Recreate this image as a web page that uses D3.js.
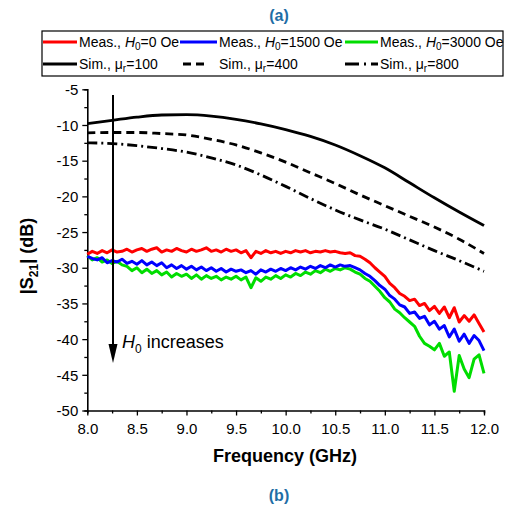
<!DOCTYPE html>
<html>
<head>
<meta charset="utf-8">
<script src="https://cdn.jsdelivr.net/npm/d3@7"></script>
<style>
  body { margin: 0; background: #fff; }
  text { font-family: "Liberation Sans", Arial, sans-serif; }
</style>
</head>
<body>
<div id="container"></div>
<script>
// measured data, 8.00 .. 12.00 GHz
const freq = [8.00,8.05,8.10,8.15,8.20,8.25,8.30,8.35,8.40,8.45,8.50,8.55,8.60,8.65,8.70,8.75,8.80,8.85,8.90,8.95,
  9.00,9.05,9.10,9.15,9.20,9.25,9.30,9.35,9.40,9.45,9.50,9.55,9.60,9.65,9.70,9.75,9.80,9.85,9.90,9.95,
  10.00,10.05,10.10,10.15,10.20,10.25,10.30,10.35,10.40,10.45,10.50,10.55,10.60,10.65,10.70,10.75,10.80,10.85,10.90,10.95,
  11.00,11.05,11.10,11.15,11.20,11.25,11.30,11.35,11.40,11.45,11.50,11.55,11.60,11.65,11.70,11.75,11.80,11.85,11.90,11.95,12.00];
const meas0 = [-28.1,-27.7,-28.0,-27.6,-27.9,-27.5,-27.8,-27.7,-27.4,-27.8,-27.5,-27.3,-27.7,-27.4,-27.2,-27.8,-27.5,-27.7,-27.3,-27.6,
  -27.8,-27.4,-27.7,-27.5,-27.2,-27.7,-27.5,-27.8,-27.4,-27.7,-27.5,-27.9,-27.6,-28.6,-27.7,-28.0,-27.6,-27.9,-27.7,-28.0,
  -27.7,-27.9,-27.6,-27.8,-27.6,-27.9,-27.7,-27.8,-27.6,-27.8,-27.7,-27.9,-28.0,-27.9,-28.3,-28.4,-28.8,-29.3,-30.0,-30.6,
  -31.2,-32.2,-32.8,-33.6,-34.0,-34.6,-34.4,-35.3,-35.0,-36.0,-35.4,-36.4,-35.5,-37.0,-35.6,-37.6,-36.7,-37.5,-36.6,-37.8,-39.0];
const meas1500 = [-28.4,-28.7,-28.9,-28.6,-29.3,-29.0,-29.2,-28.8,-29.4,-29.1,-29.5,-29.0,-29.6,-29.2,-29.7,-29.3,-30.0,-29.6,-30.1,-29.7,
  -30.2,-29.8,-30.3,-29.9,-30.4,-30.0,-30.5,-30.1,-30.6,-30.2,-30.5,-30.3,-30.7,-30.4,-30.9,-30.3,-30.6,-30.2,-30.5,-30.1,
  -30.4,-30.0,-30.3,-29.9,-30.2,-29.8,-30.1,-29.7,-30.0,-29.6,-29.9,-29.6,-29.8,-29.7,-30.0,-30.3,-30.8,-31.2,-31.8,-32.5,
  -33.0,-33.9,-34.4,-35.2,-35.5,-36.4,-36.2,-37.1,-36.8,-38.0,-37.5,-38.6,-38.1,-39.7,-38.6,-40.3,-39.3,-40.6,-39.5,-40.2,-41.6];
const meas3000 = [-28.3,-28.9,-28.6,-29.2,-28.9,-29.4,-29.1,-29.6,-29.8,-30.4,-30.0,-30.7,-30.2,-30.8,-30.4,-31.0,-30.6,-31.3,-30.8,-31.2,
  -30.9,-31.5,-31.0,-31.6,-31.1,-31.5,-31.2,-31.7,-31.3,-31.6,-31.2,-31.7,-31.3,-32.8,-31.4,-31.9,-31.3,-31.6,-31.1,-31.5,
  -31.0,-31.3,-30.8,-31.1,-30.6,-30.9,-30.4,-30.7,-30.2,-30.5,-30.1,-30.3,-30.0,-30.2,-30.6,-30.9,-31.5,-31.9,-32.6,-33.3,
  -34.2,-34.8,-35.8,-36.3,-37.0,-37.6,-38.2,-39.6,-40.6,-41.0,-41.5,-40.6,-42.4,-41.8,-47.3,-42.3,-44.2,-45.4,-42.8,-42.2,-44.8];

// simulated data, 8.0 .. 12.0 GHz
const simFreq = [8.0,8.25,8.5,8.75,9.0,9.25,9.5,9.75,10.0,10.25,10.5,10.75,11.0,11.25,11.5,11.75,12.0];
const sim100 = [-9.8,-9.35,-8.9,-8.6,-8.55,-8.75,-9.2,-9.85,-10.65,-11.6,-12.8,-14.3,-16.0,-18.1,-20.2,-22.2,-24.1];
const sim400 = [-11.1,-11.05,-11.05,-11.2,-11.4,-12.0,-12.8,-13.9,-15.2,-16.7,-18.2,-19.8,-21.3,-22.8,-24.3,-26.0,-28.0];
const sim800 = [-12.5,-12.6,-12.9,-13.3,-13.8,-14.6,-15.6,-17.0,-18.6,-20.3,-21.9,-23.3,-24.6,-26.1,-27.6,-29.0,-30.5];

const xTicks = [8.0,8.5,9.0,9.5,10.0,10.5,11.0,11.5,12.0];
const yTicks = [-5,-10,-15,-20,-25,-30,-35,-40,-45,-50];

const W = 511, H = 510;
const svg = d3.select("#container").append("svg").attr("width", W).attr("height", H);

const x = d3.scaleLinear().domain([8, 12]).range([87.3, 484]);
const y = d3.scaleLinear().domain([-50, -5]).range([410.5, 89.3]);
const isMajor = (list, d) => list.some(t => Math.abs(t - d) < 1e-6);

// axes
const xAxis = svg.append("g").attr("transform", "translate(0,410.5)");
xAxis.call(d3.axisBottom(x).tickValues(d3.range(8, 12.01, 0.25)).tickSize(3).tickFormat(""));
const xMaj = xAxis.selectAll(".tick").filter(d => isMajor(xTicks, d));
xMaj.select("line").attr("y2", 5);
xMaj.append("text")
  .attr("y", 23).attr("fill", "#000").attr("text-anchor", "middle").style("font-size", "15px")
  .text(d => d.toFixed(1));
const yAxis = svg.append("g").attr("transform", "translate(87.3,0)");
yAxis.call(d3.axisLeft(y).tickValues(d3.range(-50, -4.9, 2.5)).tickSize(3).tickFormat(""));
const yMaj = yAxis.selectAll(".tick").filter(d => isMajor(yTicks, d));
yMaj.select("line").attr("x2", -5);
yMaj.append("text")
  .attr("x", -9).attr("dy", "0.35em").attr("fill", "#000").attr("text-anchor", "end").style("font-size", "15px")
  .text(d => d);
svg.selectAll(".domain").attr("stroke-width", 1.6);
svg.selectAll(".tick line").attr("stroke-width", 1.3);

// lines
const line = d3.line().x(d => x(d[0])).y(d => y(d[1]));
const sline = d3.line().x(d => x(d[0])).y(d => y(d[1])).curve(d3.curveMonotoneX);
const plot = svg.append("g");
const sims = [[sim100, null], [sim400, "8,5"], [sim800, "10,4,2,4"]];
sims.forEach(([vals, dash]) => {
  plot.append("path").datum(simFreq.map((f, i) => [f, vals[i]]))
    .attr("d", sline).attr("fill", "none").attr("stroke", "#000").attr("stroke-width", 2.8)
    .attr("stroke-dasharray", dash);
});
const meas = [[meas3000, "#00dd00"], [meas1500, "#0000ff"], [meas0, "#ff0000"]];
meas.forEach(([vals, col]) => {
  plot.append("path").datum(freq.map((f, i) => [f, vals[i]]))
    .attr("d", line).attr("fill", "none").attr("stroke", col).attr("stroke-width", 3)
    .attr("stroke-linejoin", "round");
});

// arrow
svg.append("line").attr("x1", 113).attr("x2", 113).attr("y1", 95).attr("y2", 352)
  .attr("stroke", "#000").attr("stroke-width", 2);
svg.append("path").attr("d", "M108.5,344 L117.5,344 L113,363 Z").attr("fill", "#000");
const ann = svg.append("text").attr("x", 122).attr("y", 348).style("font-size", "18px");
ann.append("tspan").attr("font-style", "italic").text("H");
ann.append("tspan").attr("dy", 5).style("font-size", "12px").text("0");
ann.append("tspan").attr("dy", -5).text(" increases");

// axis titles
svg.append("text").attr("x", 285).attr("y", 462).attr("text-anchor", "middle")
  .style("font-size", "18px").style("font-weight", "bold").text("Frequency (GHz)");
const yt = svg.append("text").attr("transform", "translate(33,256) rotate(-90)").attr("text-anchor", "middle")
  .style("font-size", "18px").style("font-weight", "bold");
yt.append("tspan").text("|S");
yt.append("tspan").attr("dy", 5).style("font-size", "12px").text("21");
yt.append("tspan").attr("dy", -5).text("| (dB)");

// panel labels
svg.append("text").attr("x", 279).attr("y", 21).attr("text-anchor", "middle")
  .style("font-size", "16px").style("font-weight", "bold").attr("fill", "#1f6ea6").text("(a)");
svg.append("text").attr("x", 279).attr("y", 501).attr("text-anchor", "middle")
  .style("font-size", "16px").style("font-weight", "bold").attr("fill", "#1f6ea6").text("(b)");

// legend
const leg = svg.append("g");
leg.append("rect").attr("x", 42).attr("y", 31).attr("width", 461).attr("height", 45)
  .attr("fill", "#fff").attr("stroke", "#000").attr("stroke-width", 1.2);
const legItems = [
  {x: 43, y: 42, w: 34, col: "#ff0000", dash: null, pre: "Meas., ", it: "H", sub: "0", post: "=0 Oe"},
  {x: 180, y: 42, w: 37, col: "#0000ff", dash: null, pre: "Meas., ", it: "H", sub: "0", post: "=1500 Oe"},
  {x: 345, y: 42, w: 33, col: "#00dd00", dash: null, pre: "Meas., ", it: "H", sub: "0", post: "=3000 Oe"},
  {x: 43, y: 64, w: 34, col: "#000", dash: null, pre: "Sim., ", mu: true, post: "=100"},
  {x: 183, y: 64, w: 24, col: "#000", dash: "8,5", pre: "Sim., ", mu: true, post: "=400"},
  {x: 345, y: 64, w: 33, col: "#000", dash: "14,5,2,5", pre: "Sim., ", mu: true, post: "=800"}
];
legItems.forEach(d => {
  leg.append("line").attr("x1", d.x).attr("x2", d.x + d.w).attr("y1", d.y).attr("y2", d.y)
    .attr("stroke", d.col).attr("stroke-width", 2.8).attr("stroke-dasharray", d.dash);
  const tx = d.dash === "8,5" ? 219 : d.x + d.w + 2;
  const t = leg.append("text").attr("x", tx).attr("y", d.y + 5).style("font-size", "14px");
  t.append("tspan").text(d.pre);
  if (d.mu) {
    t.append("tspan").text("\u03bc");
    t.append("tspan").attr("dy", 3).style("font-size", "10px").text("r");
    t.append("tspan").attr("dy", -3).text(d.post);
  } else {
    t.append("tspan").attr("font-style", "italic").text(d.it);
    t.append("tspan").attr("dy", 3).style("font-size", "10px").text(d.sub);
    t.append("tspan").attr("dy", -3).text(d.post);
  }
});
</script>
</body>
</html>
